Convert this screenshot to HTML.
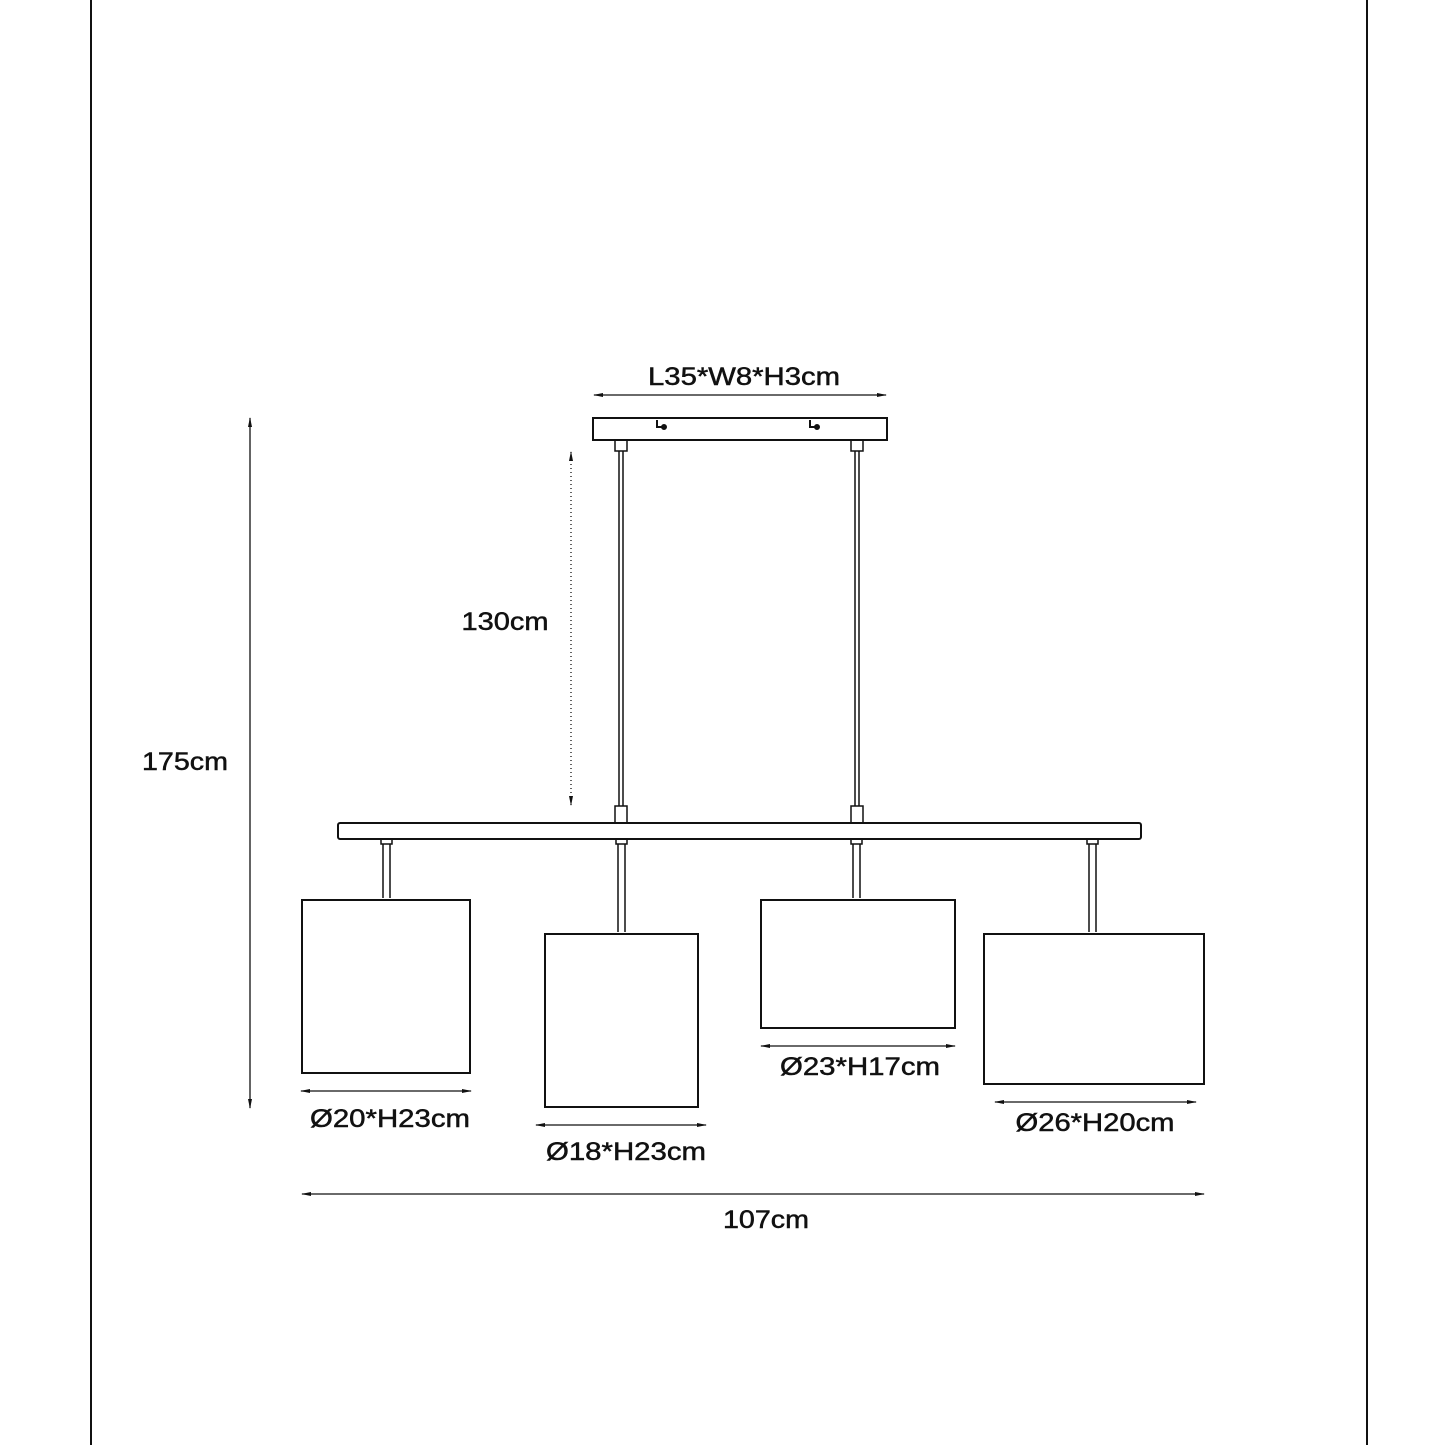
<!DOCTYPE html>
<html><head><meta charset="utf-8"><style>html,body{margin:0;padding:0;background:#fff}svg{display:block}</style></head>
<body>
<svg width="1445" height="1445" viewBox="0 0 1445 1445" xmlns="http://www.w3.org/2000/svg">
<defs>
<marker id="a" markerWidth="10" markerHeight="6" refX="9" refY="3" orient="auto-start-reverse" markerUnits="userSpaceOnUse"><path d="M0,1 L10,3 L0,5 Z" fill="#111"/></marker>
</defs>
<g stroke="#111" fill="none">
<line x1="91" y1="0" x2="91" y2="1445" stroke-width="2"/>
<line x1="1367" y1="0" x2="1367" y2="1445" stroke-width="2"/>
<rect x="593" y="418" width="294" height="22" stroke-width="2"/>
<path d="M657,420 v7 h5 M810,420 v7 h5" stroke-width="2"/>
<circle cx="664" cy="427" r="2.5" fill="#111"/><circle cx="817" cy="427" r="2.5" fill="#111"/>
<line x1="594" y1="395" x2="886" y2="395" stroke-width="1.3" marker-start="url(#a)" marker-end="url(#a)"/>
<rect x="615" y="440" width="12" height="11" stroke-width="1.5"/>
<rect x="851" y="440" width="12" height="11" stroke-width="1.5"/>
<line x1="619" y1="451" x2="619" y2="806" stroke-width="1.5"/><line x1="623" y1="451" x2="623" y2="806" stroke-width="1.5"/>
<line x1="855" y1="451" x2="855" y2="806" stroke-width="1.5"/><line x1="859" y1="451" x2="859" y2="806" stroke-width="1.5"/>
<rect x="615" y="806" width="12" height="17" stroke-width="1.5"/>
<rect x="851" y="806" width="12" height="17" stroke-width="1.5"/>
<rect x="338" y="823" width="803" height="16" rx="2" stroke-width="2"/>
<g stroke-width="1.5">
<rect x="381" y="839" width="11" height="5"/><line x1="383" y1="844" x2="383" y2="898"/><line x1="390" y1="844" x2="390" y2="898"/>
<rect x="616" y="839" width="11" height="5"/><line x1="618" y1="844" x2="618" y2="932"/><line x1="625" y1="844" x2="625" y2="932"/>
<rect x="851" y="839" width="11" height="5"/><line x1="853" y1="844" x2="853" y2="898"/><line x1="860" y1="844" x2="860" y2="898"/>
<rect x="1087" y="839" width="11" height="5"/><line x1="1089" y1="844" x2="1089" y2="932"/><line x1="1096" y1="844" x2="1096" y2="932"/>
</g>
<g stroke-width="2">
<rect x="302" y="900" width="168" height="173"/>
<rect x="545" y="934" width="153" height="173"/>
<rect x="761" y="900" width="194" height="128"/>
<rect x="984" y="934" width="220" height="150"/>
</g>
<g stroke-width="1.3">
<line x1="301" y1="1091" x2="471" y2="1091" marker-start="url(#a)" marker-end="url(#a)"/>
<line x1="536" y1="1125" x2="706" y2="1125" marker-start="url(#a)" marker-end="url(#a)"/>
<line x1="761" y1="1046" x2="955" y2="1046" marker-start="url(#a)" marker-end="url(#a)"/>
<line x1="995" y1="1102" x2="1196" y2="1102" marker-start="url(#a)" marker-end="url(#a)"/>
<line x1="302" y1="1194" x2="1204" y2="1194" marker-start="url(#a)" marker-end="url(#a)"/>
<line x1="250" y1="418" x2="250" y2="1108" marker-start="url(#a)" marker-end="url(#a)"/>
<line x1="571" y1="452" x2="571" y2="805" stroke-dasharray="1 3" marker-start="url(#a)" marker-end="url(#a)"/>
</g>
</g>
<g font-family="Liberation Sans, Arial, sans-serif" font-size="25" fill="#111" stroke="#111" stroke-width="0.5" text-anchor="middle">
<text x="744" y="385" textLength="192" lengthAdjust="spacingAndGlyphs">L35*W8*H3cm</text>
<text x="390" y="1127" textLength="160" lengthAdjust="spacingAndGlyphs">Ø20*H23cm</text>
<text x="626" y="1160" textLength="160" lengthAdjust="spacingAndGlyphs">Ø18*H23cm</text>
<text x="860" y="1075" textLength="160" lengthAdjust="spacingAndGlyphs">Ø23*H17cm</text>
<text x="1095" y="1131" textLength="159" lengthAdjust="spacingAndGlyphs">Ø26*H20cm</text>
<text x="766" y="1228" textLength="86" lengthAdjust="spacingAndGlyphs">107cm</text>
<text x="185" y="770" textLength="86" lengthAdjust="spacingAndGlyphs">175cm</text>
<text x="505" y="630" textLength="87" lengthAdjust="spacingAndGlyphs">130cm</text>
</g>
</svg>
</body></html>
